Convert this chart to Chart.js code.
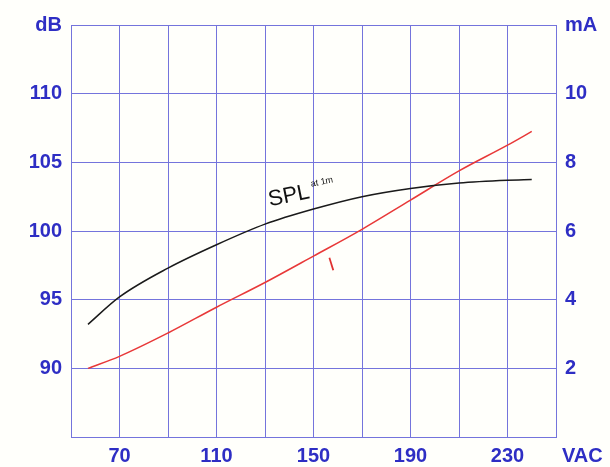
<!DOCTYPE html>
<html>
<head>
<meta charset="utf-8">
<script src="https://cdn.jsdelivr.net/npm/chart.js@4/dist/chart.umd.min.js"></script>
<style>
  body { margin: 0; background: #fffffb; }
  #wrap { width: 610px; height: 467px; }
</style>
</head>
<body>
<div id="wrap"><canvas id="myChart" width="610" height="467"></canvas></div>
<script>
// supply voltage (VAC) and readings taken off the curves
var splVolts = [57, 70, 90, 110, 130, 150, 170, 190, 210, 230, 240];
var splDb    = [93.2, 95.2, 97.3, 99.0, 100.5, 101.6, 102.5, 103.1, 103.5, 103.7, 103.75];
var curVolts = [57, 70, 90, 110, 130, 150, 170, 190, 210, 230, 240];
var curMa    = [2.0, 2.35, 3.03, 3.78, 4.5, 5.27, 6.05, 6.9, 7.75, 8.5, 8.9];
var xLabels  = [70, 110, 150, 190, 230];

var blue = '#2e2ec4';
var gridBlue = '#7474dc';
var fam = 'Liberation Sans, Arial, sans-serif';
var tickFont = { family: fam, size: 20, weight: 'bold' };

function pts(xs, ys) {
    var out = [];
    for (var i = 0; i < xs.length; i++) out.push({ x: xs[i], y: ys[i] });
    return out;
}

// texts that are not ticks: VAC unit, curve names
var extraText = {
    id: 'extraText',
    afterDraw: function(chart) {
        var c = chart.ctx, a = chart.chartArea;
        var sx = chart.scales.x, sy = chart.scales.y;
        c.save();
        c.fillStyle = blue;
        c.font = 'bold 20px ' + fam;
        c.textAlign = 'left';
        c.textBaseline = 'middle';
        c.fillText('VAC', a.right + 6, a.bottom + 19);

        // SPL at 1m
        c.translate(sx.getPixelForValue(132), sy.getPixelForValue(101.8));
        c.rotate(-0.2);
        c.fillStyle = '#111';
        c.textBaseline = 'alphabetic';
        c.font = '22px ' + fam;
        c.fillText('SPL', 0, 0);
        var w = c.measureText('SPL').width;
        c.font = '9px ' + fam;
        c.fillText('at 1m', w + 3, -11);
        c.restore();

        c.save();
        c.translate(sx.getPixelForValue(157.5), sy.getPixelForValue(97.5));
        c.rotate(-0.3);
        c.fillStyle = '#e03030';
        c.font = '19px ' + fam;
        c.textAlign = 'center';
        c.textBaseline = 'middle';
        c.fillText('I', 0, 0);
        c.restore();
    }
};

var ctx = document.getElementById('myChart').getContext('2d');
var myChart = new Chart(ctx, {
    type: 'line',
    data: {
        datasets: [
            {
                data: pts(splVolts, splDb),
                yAxisID: 'y',
                borderColor: '#1a1a1a',
                borderWidth: 1.5,
                pointRadius: 0,
                cubicInterpolationMode: 'monotone'
            },
            {
                data: pts(curVolts, curMa),
                yAxisID: 'y2',
                borderColor: '#e83838',
                borderWidth: 1.5,
                pointRadius: 0,
                cubicInterpolationMode: 'monotone'
            }
        ]
    },
    options: {
        responsive: false,
        animation: false,
        devicePixelRatio: 1,
        layout: { padding: { top: 25, left: 0, right: 0, bottom: 0 } },
        plugins: { legend: { display: false }, tooltip: { enabled: false } },
        scales: {
            x: {
                type: 'linear',
                min: 50, max: 250,
                ticks: {
                    stepSize: 20,
                    autoSkip: false,
                    maxRotation: 0,
                    color: blue,
                    font: tickFont,
                    padding: 7,
                    callback: function(v) { return xLabels.indexOf(v) >= 0 ? v : ''; }
                },
                grid: { color: gridBlue, lineWidth: 1, drawTicks: false },
                border: { color: gridBlue },
                afterFit: function(s) { s.height = 30; }
            },
            y: {
                position: 'left',
                min: 85, max: 115,
                ticks: {
                    stepSize: 5,
                    color: blue,
                    font: tickFont,
                    padding: 9,
                    callback: function(v) { return v == 115 ? 'dB' : (v == 85 ? '' : v); }
                },
                grid: { color: gridBlue, lineWidth: 1, drawTicks: false },
                border: { color: gridBlue },
                afterFit: function(s) { s.width = 71; }
            },
            y2: {
                position: 'right',
                min: 0, max: 12,
                ticks: {
                    stepSize: 2,
                    color: blue,
                    font: tickFont,
                    padding: 9,
                    callback: function(v) { return v == 12 ? 'mA' : (v == 0 ? '' : v); }
                },
                grid: { drawOnChartArea: false, drawTicks: false },
                border: { color: gridBlue },
                afterFit: function(s) { s.width = 54; }
            }
        }
    },
    plugins: [extraText]
});
</script>
</body>
</html>
